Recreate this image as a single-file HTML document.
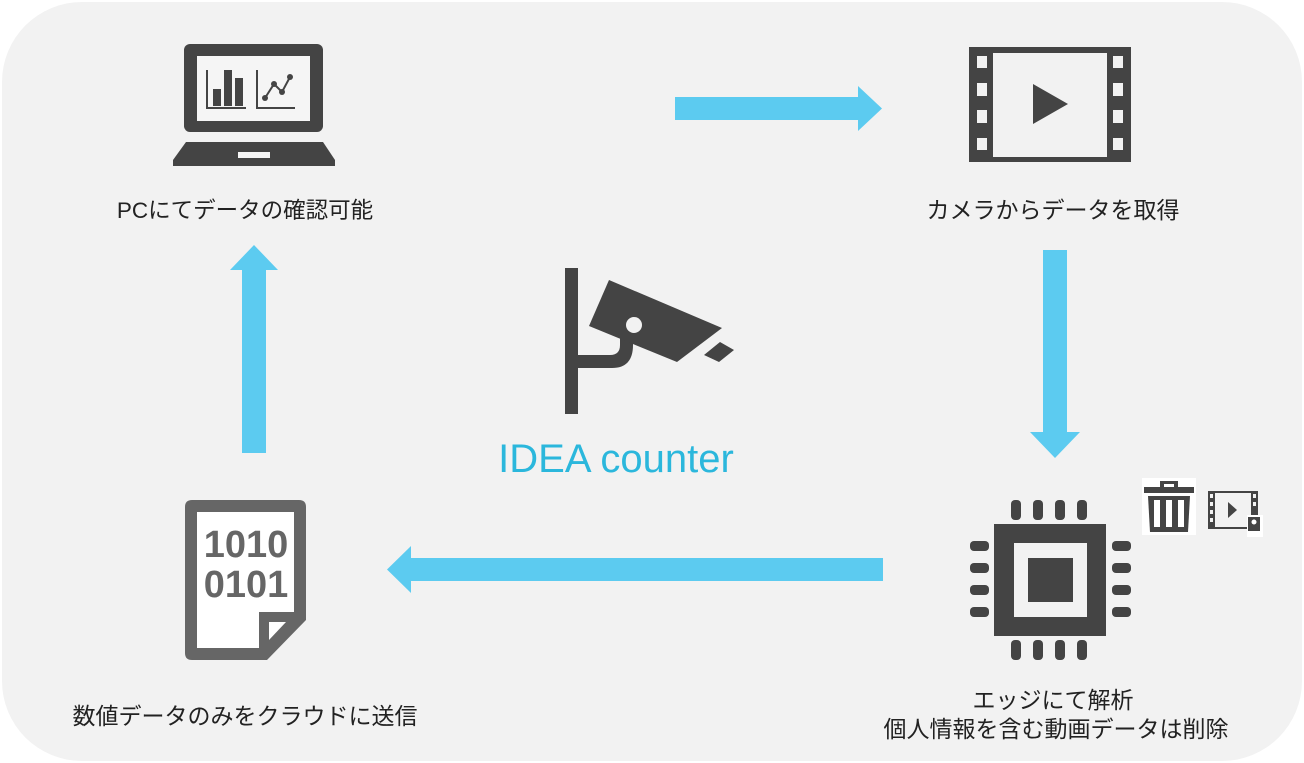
<!DOCTYPE html>
<html><head><meta charset="utf-8"><style>
html,body{margin:0;padding:0;background:#fff;}
svg{display:block}
text{font-family:"Liberation Sans","Noto Sans CJK JP",sans-serif;}
</style></head><body>
<svg width="1304" height="763" viewBox="0 0 1304 763" xmlns="http://www.w3.org/2000/svg">
<rect x="0" y="0" width="1304" height="763" fill="#fff"/>
<rect x="2" y="2" width="1300" height="759" rx="80" fill="#f2f2f2"/>

<!-- laptop -->
<rect x="184" y="44" width="139" height="88" rx="6" fill="#444"/>
<rect x="197" y="56" width="113" height="65" fill="#f5f5f5"/>
<path d="M207 70 V108 H246" stroke="#444" stroke-width="2" fill="none"/>
<rect x="213" y="89" width="8" height="17" fill="#444"/>
<rect x="224" y="70" width="8" height="36" fill="#444"/>
<rect x="235" y="78" width="8" height="28" fill="#444"/>
<path d="M257 70 V108 H295" stroke="#444" stroke-width="2" fill="none"/>
<polyline points="265,98 274,84 282,92 290,77" stroke="#444" stroke-width="2" fill="none"/>
<circle cx="265" cy="98" r="3" fill="#444"/><circle cx="274" cy="84" r="3" fill="#444"/><circle cx="282" cy="92" r="3" fill="#444"/><circle cx="290" cy="77" r="3" fill="#444"/>
<path d="M186 142 H323 L335 160 V166 H173 V160 Z" fill="#444"/>
<rect x="238" y="152" width="32" height="6" fill="#f5f5f5"/>
<text x="245" y="218" font-size="22.5" fill="#222" text-anchor="middle">PCにてデータの確認可能</text>

<!-- film -->
<rect x="969" y="47" width="162" height="115" fill="#444"/>
<rect x="993" y="53" width="114" height="104" fill="#f2f2f2"/>
<g fill="#f2f2f2">
<rect x="977" y="56" width="10" height="12"/><rect x="977" y="83" width="10" height="13"/><rect x="977" y="110" width="10" height="13"/><rect x="977" y="138" width="10" height="12"/>
<rect x="1113" y="56" width="10" height="12"/><rect x="1113" y="83" width="10" height="13"/><rect x="1113" y="110" width="10" height="13"/><rect x="1113" y="138" width="10" height="12"/>
</g>
<path d="M1033 84 L1068 104 L1033 124 Z" fill="#444"/>
<text x="1053" y="218" font-size="23" fill="#222" text-anchor="middle">カメラからデータを取得</text>

<!-- arrows -->
<g fill="#5ccbf0">
<rect x="675" y="97" width="186" height="23"/><path d="M858 86 L882 108.5 L858 131 Z"/>
<rect x="1043" y="250" width="24" height="185"/><path d="M1030 432 L1080 432 L1055 458 Z"/>
<rect x="408" y="558" width="475" height="23"/><path d="M411 546 L387 569.5 L411 593 Z"/>
<rect x="242" y="268" width="24" height="185"/><path d="M230 270 L278 270 L254 245 Z"/>
</g>

<!-- camera -->
<g fill="#444">
<rect x="565" y="268" width="13" height="146"/>
<path d="M578 368 H612 Q633 368 633 345 V318 H620 V345 Q620 355 610 355 H578 Z"/>
<path d="M609 280 L722 328 L677 362 L589 326 Z"/>
<path d="M720 342 L734 350 L719 362 L704 355 Z"/>
</g>
<circle cx="634" cy="325" r="8" fill="#f2f2f2"/>
<text x="616" y="472" font-size="40" fill="#2bb7dc" text-anchor="middle">IDEA counter</text>

<!-- chip -->
<g fill="#444">
<rect x="994" y="524" width="112" height="112"/>
<rect x="1011" y="500" width="10" height="20" rx="4"/><rect x="1033" y="500" width="10" height="20" rx="4"/><rect x="1055" y="500" width="10" height="20" rx="4"/><rect x="1077" y="500" width="10" height="20" rx="4"/>
<rect x="1011" y="640" width="10" height="20" rx="4"/><rect x="1033" y="640" width="10" height="20" rx="4"/><rect x="1055" y="640" width="10" height="20" rx="4"/><rect x="1077" y="640" width="10" height="20" rx="4"/>
<rect x="970" y="541" width="19" height="10" rx="4"/><rect x="970" y="563" width="19" height="10" rx="4"/><rect x="970" y="585" width="19" height="10" rx="4"/><rect x="970" y="607" width="19" height="10" rx="4"/>
<rect x="1112" y="541" width="19" height="10" rx="4"/><rect x="1112" y="563" width="19" height="10" rx="4"/><rect x="1112" y="585" width="19" height="10" rx="4"/><rect x="1112" y="607" width="19" height="10" rx="4"/>
</g>
<rect x="1014" y="543" width="73" height="74" fill="#f2f2f2"/>
<rect x="1028" y="558" width="45" height="44" fill="#444"/>

<!-- trash -->
<rect x="1142" y="478" width="54" height="57" fill="#fff"/>
<g fill="#444">
<rect x="1144" y="487" width="50" height="6"/>
<path d="M1160 487 V481 H1178 V487 H1174 V484 H1164 V487 Z"/>
<path d="M1148 496 H1190 L1188 532 H1150 Z"/>
</g>
<g fill="#fff"><rect x="1154" y="500" width="6" height="27"/><rect x="1166" y="500" width="6" height="27"/><rect x="1178" y="500" width="6" height="27"/></g>
<!-- small film -->
<rect x="1208" y="491" width="50" height="38" fill="#444"/>
<rect x="1215" y="493" width="36" height="34" fill="#f2f2f2"/>
<g fill="#f2f2f2"><rect x="1210" y="494" width="3" height="4"/><rect x="1210" y="502" width="3" height="4"/><rect x="1210" y="510" width="3" height="4"/><rect x="1210" y="518" width="3" height="4"/><rect x="1253" y="494" width="3" height="4"/><rect x="1253" y="502" width="3" height="4"/></g>
<path d="M1228 502 L1237 510 L1228 518 Z" fill="#444"/>
<rect x="1247" y="515" width="16" height="22" fill="#fff"/>
<rect x="1248" y="517" width="12" height="14" fill="#444"/>
<circle cx="1254" cy="522" r="2.5" fill="#fff"/>

<text x="1053" y="708" font-size="23" fill="#222" text-anchor="middle">エッジにて解析</text>
<text x="1056" y="737" font-size="23" fill="#222" text-anchor="middle">個人情報を含む動画データは削除</text>

<!-- document -->
<path d="M192 500 H299 Q306 500 306 507 V620 L267 660 H192 Q185 660 185 653 V507 Q185 500 192 500 Z" fill="#666"/>
<path d="M197 512 H294 V612 H259 V648 H197 Z" fill="#fff"/>
<path d="M269 622 H286 L269 640 Z" fill="#fff"/>
<text x="246" y="557" font-size="38" font-weight="bold" fill="#666" text-anchor="middle">1010</text>
<text x="246" y="597" font-size="38" font-weight="bold" fill="#666" text-anchor="middle">0101</text>
<text x="245" y="724" font-size="23" fill="#222" text-anchor="middle">数値データのみをクラウドに送信</text>
</svg>
</body></html>
